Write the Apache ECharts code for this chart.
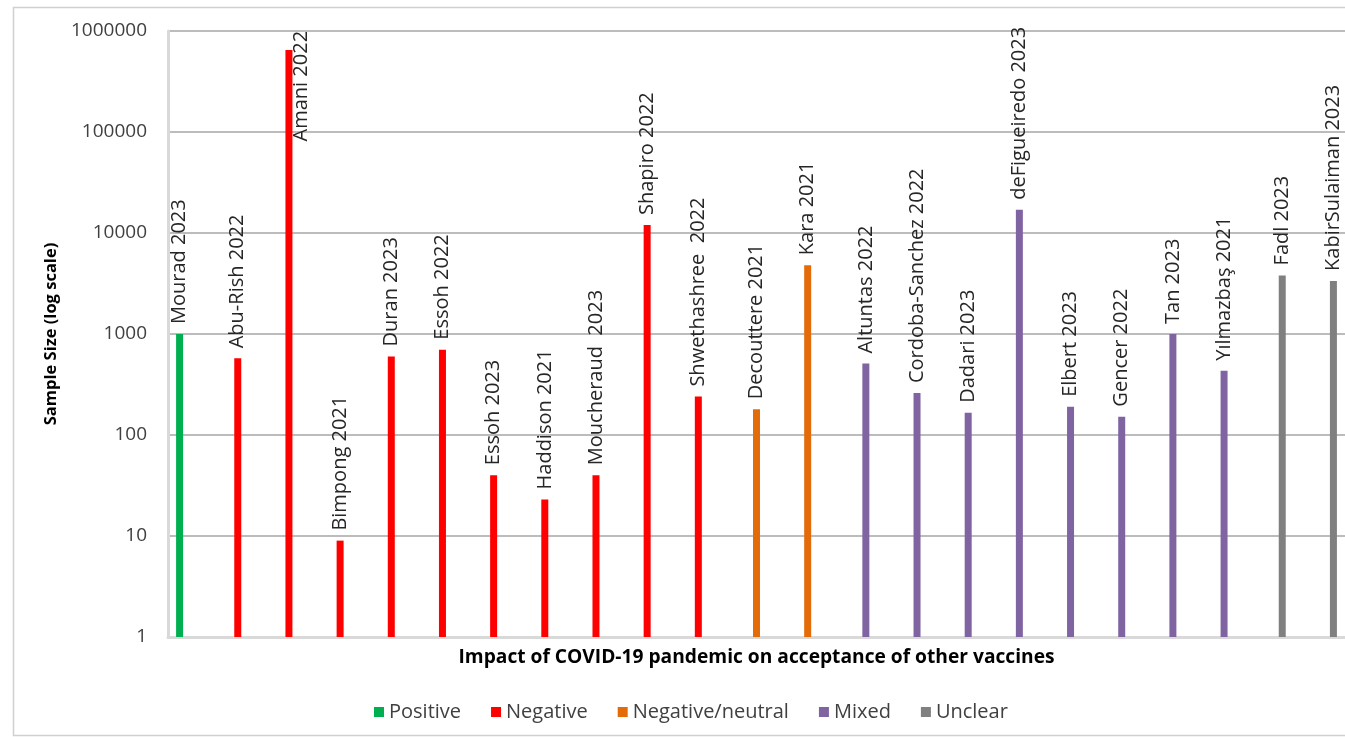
<!DOCTYPE html>
<html>
<head>
<meta charset="utf-8">
<script src="https://cdn.jsdelivr.net/npm/echarts@6/dist/echarts.min.js"></script>
<style>
  html, body { margin: 0; padding: 0; background: #ffffff; }
  #chart { width: 1345px; height: 737px; }
</style>
</head>
<body>
<div id="chart"></div>
<script>
// Studies, in plotted order
const studies = [
  'Mourad 2023', 'Abu-Rish 2022', 'Amani 2022', 'Bimpong 2021', 'Duran 2023',
  'Essoh 2022', 'Essoh 2023', 'Haddison 2021', 'Moucheraud  2023', 'Shapiro 2022',
  'Shwethashree  2022', 'Decouttere 2021', 'Kara 2021', 'Altuntas 2022',
  'Cordoba-Sanchez 2022', 'Dadari 2023', 'deFigueiredo 2023', 'Elbert 2023',
  'Gencer 2022', 'Tan 2023', 'Yılmazbaş 2021', 'Fadl 2023', 'KabirSulaiman 2023'
];

// Sample size of each study
const sampleSizes = [
  1000, 575, 650000, 9, 600,
  700, 40, 23, 40, 12000,
  240, 180, 4800, 510,
  260, 166, 17000, 190,
  152, 1000, 433, 3800, 3350
];

// Reported impact for each study
const impact = [
  'Positive', 'Negative', 'Negative', 'Negative', 'Negative',
  'Negative', 'Negative', 'Negative', 'Negative', 'Negative',
  'Negative', 'Negative/neutral', 'Negative/neutral', 'Mixed',
  'Mixed', 'Mixed', 'Mixed', 'Mixed',
  'Mixed', 'Mixed', 'Mixed', 'Unclear', 'Unclear'
];

const impactGroups = ['Positive', 'Negative', 'Negative/neutral', 'Mixed', 'Unclear'];
const groupColors = ['#00b050', '#ff0000', '#e36c09', '#8064a2', '#808080'];

// Y axis tick labels (powers of ten)
const yTicks = ['1', '10', '100', '1000', '10000', '100000', '1000000'];

const FONT = '"Open Sans", "Liberation Sans", sans-serif';

const series = impactGroups.map((g, gi) => ({
  name: g,
  type: 'bar',
  barWidth: 7,
  barGap: '0%',
  itemStyle: { color: groupColors[gi] },
  label: {
    show: true,
    position: 'top',
    distance: 10,
    rotate: 90,
    align: 'left',
    verticalAlign: 'middle',
    formatter: '{b}',
    fontFamily: FONT,
    fontSize: 20,
    color: '#262626'
  },
  data: sampleSizes.map((v, i) => {
    if (impact[i] !== g) return null;
    if (v >= 100000) {
      // value too tall for an outside label: place it beside the bar, against the top
      return {
        value: v,
        label: { position: [16, -19], align: 'right', verticalAlign: 'middle' }
      };
    }
    return v;
  })
}));

const chart = echarts.init(document.getElementById('chart'), null, { renderer: 'canvas' });
chart.setOption({
  animation: false,
  backgroundColor: '#ffffff',
  graphic: [{
    type: 'rect',
    shape: { x: 13.5, y: 7.5, width: 1345, height: 728 },
    style: { fill: 'none', stroke: '#d0d0d0', lineWidth: 1.5 },
    silent: true,
    z: -10
  }],
  grid: { left: 168, right: 0, top: 31, bottom: 100 },
  legend: {
    data: impactGroups,
    left: 369,
    top: 697,
    icon: 'rect',
    itemWidth: 10,
    itemHeight: 10,
    itemGap: 30,
    textStyle: { fontFamily: FONT, fontSize: 20, color: '#404040' }
  },
  xAxis: {
    type: 'category',
    data: studies,
    name: 'Impact of COVID-19 pandemic on acceptance of other vaccines',
    nameLocation: 'middle',
    nameGap: 11,
    nameTextStyle: { fontFamily: FONT, fontSize: 19.2, fontWeight: 'bold', color: '#000000' },
    axisLine: { lineStyle: { color: '#d9d9d9', width: 3 } },
    axisTick: { show: false },
    axisLabel: { show: false },
    splitLine: { show: false }
  },
  yAxis: {
    type: 'log',
    logBase: 10,
    min: 1,
    max: 1000000,
    name: 'Sample Size (log scale)',
    nameLocation: 'middle',
    nameGap: 107,
    nameRotate: 90,
    nameTextStyle: { fontFamily: FONT, fontSize: 16.5, fontWeight: 'bold', color: '#000000' },
    axisLine: { show: true, lineStyle: { color: '#d9d9d9', width: 3 } },
    axisTick: { show: false },
    axisLabel: {
      fontFamily: FONT,
      fontSize: 19,
      color: '#404040',
      margin: 21,
      formatter: v => yTicks[Math.round(Math.log10(v))]
    },
    splitLine: { lineStyle: { color: '#a6a6a6', width: 1.5 } }
  },
  series: series
});
</script>
</body>
</html>
